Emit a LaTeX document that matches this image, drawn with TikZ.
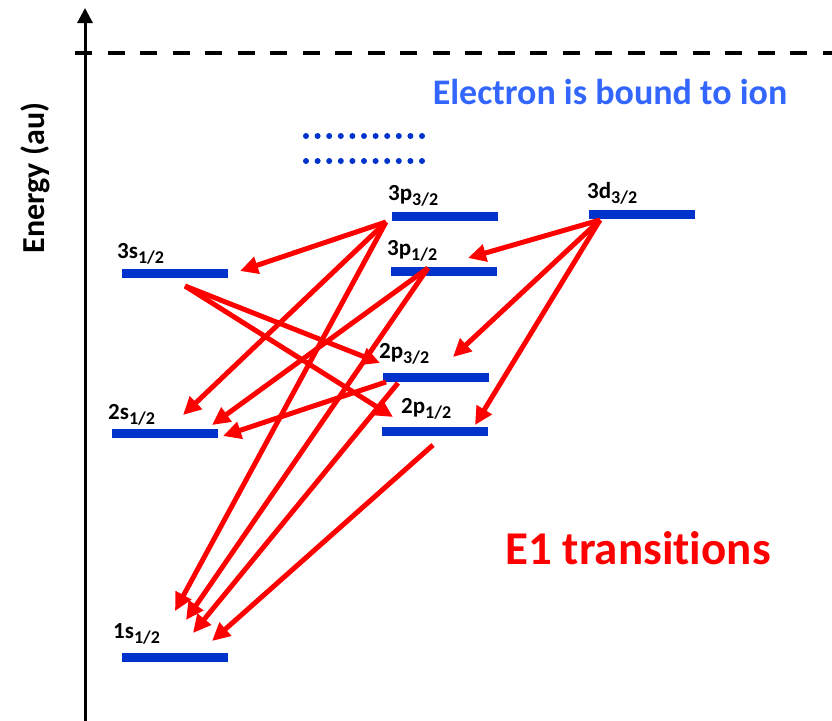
\documentclass[tikz,border=0pt]{standalone}
\usepackage{fontspec}
\setmainfont{Carlito}[Ligatures=NoCommon]
\usepackage{tikz}
\usetikzlibrary{arrows.meta}
\definecolor{LevelBlue}{HTML}{0033CC}
\definecolor{NoteBlue}{HTML}{3366FF}
\definecolor{TransRed}{HTML}{FF0000}

\tikzset{
  level/.style={fill=LevelBlue, minimum width=106pt, minimum height=9pt, inner sep=0pt},
  lvllabel/.style={anchor=base west, inner sep=0pt, font=\bfseries\fontsize{23}{25}\selectfont},
  trans/.style={draw=TransRed, line width=5pt, -{Triangle[length=18pt,width=17pt]}},
}
\newcommand{\halfj}[1]{\raisebox{-5pt}{\fontsize{18}{18}\selectfont #1}}

\begin{document}
\begin{tikzpicture}[x=1pt, y=-1pt]
  \useasboundingbox (0,0) rectangle (832,720);

  % energy axis and ionisation limit
  \coordinate (axbot) at (85,725);
  \coordinate (axtop) at (85,8);
  \draw[line width=3pt, -{Triangle[length=15pt,width=15pt]}] (axbot) -- (axtop);
  \coordinate (limL) at (75,53);
  \coordinate (limR) at (832,53);
  \draw[line width=4.5pt, dash pattern=on 17pt off 15.5pt] (limL) -- (limR);

  \node[rotate=90, anchor=base, font=\bfseries\fontsize{32}{34}\selectfont] (ylab) at (44,178) {Energy (au)};
  \node[anchor=base, text=NoteBlue, font=\bfseries\fontsize{36}{40}\selectfont] (bound) at (610,104) {Electron is bound to ion};
  \node[anchor=base, text=TransRed, font=\bfseries\fontsize{47}{50}\selectfont] (eone) at (638,564) {E1 transitions};

  % higher levels
  \foreach \yy in {136,161}
    \foreach \i in {0,...,10}
      \fill[LevelBlue] (306+11.6*\i,\yy) circle (3pt);

  % levels
  \node[level] (s3) at (175,273) {};
  \node[level] (p3h) at (445,216) {};
  \node[level] (p3l) at (444,271) {};
  \node[level] (d3) at (642,214) {};
  \node[level] (s2) at (165,433) {};
  \node[level] (p2h) at (436,377) {};
  \node[level] (p2l) at (435,431) {};
  \node[level] (s1) at (175,657) {};

  \node[lvllabel] (s3lab) at (117,258) {3s\halfj{1/2}};
  \node[lvllabel] (p3hlab) at (388,200) {3p\halfj{3/2}};
  \node[lvllabel] (p3llab) at (387,255) {3p\halfj{1/2}};
  \node[lvllabel] (d3lab) at (587,198) {3d\halfj{3/2}};
  \node[lvllabel] (s2lab) at (108,419) {2s\halfj{1/2}};
  \node[lvllabel] (p2hlab) at (379,358) {2p\halfj{3/2}};
  \node[lvllabel] (p2llab) at (401,413) {2p\halfj{1/2}};
  \node[lvllabel] (s1lab) at (113,638) {1s\halfj{1/2}};

  % transition ends
  \coordinate (p3hout) at (386,222);
  \coordinate (p3lout) at (428,268);
  \coordinate (d3out) at (600,220);
  \coordinate (s3out) at (185,286);
  \coordinate (p2hout) at (386,382);
  \coordinate (p2hout2) at (398,383);
  \coordinate (p2lout) at (433,445);
  \coordinate (s3in) at (240,271);
  \coordinate (s2in1) at (183,415);
  \coordinate (s2in2) at (212,425);
  \coordinate (s2in3) at (223,436);
  \coordinate (s1in1) at (175,611);
  \coordinate (s1in2) at (186,620);
  \coordinate (s1in3) at (193,633);
  \coordinate (s1in4) at (212,641);
  \coordinate (p3lin) at (468,258);
  \coordinate (p2hin1) at (380,363);
  \coordinate (p2hin2) at (453,357);
  \coordinate (p2lin1) at (393,417);
  \coordinate (p2lin2) at (475,425);

  % E1 transitions
  \draw[trans] (p3hout) -- (s3in);
  \draw[trans] (p3hout) -- (s2in1);
  \draw[trans] (p3hout) -- (s1in1);
  \draw[trans] (p3lout) -- (s2in2);
  \draw[trans] (p3lout) -- (s1in2);
  \draw[trans] (d3out) -- (p3lin);
  \draw[trans] (d3out) -- (p2hin2);
  \draw[trans] (d3out) -- (p2lin2);
  \draw[trans] (s3out) -- (p2hin1);
  \draw[trans] (s3out) -- (p2lin1);
  \draw[trans] (p2hout) -- (s2in3);
  \draw[trans] (p2hout2) -- (s1in3);
  \draw[trans] (p2lout) -- (s1in4);
\end{tikzpicture}
\end{document}
